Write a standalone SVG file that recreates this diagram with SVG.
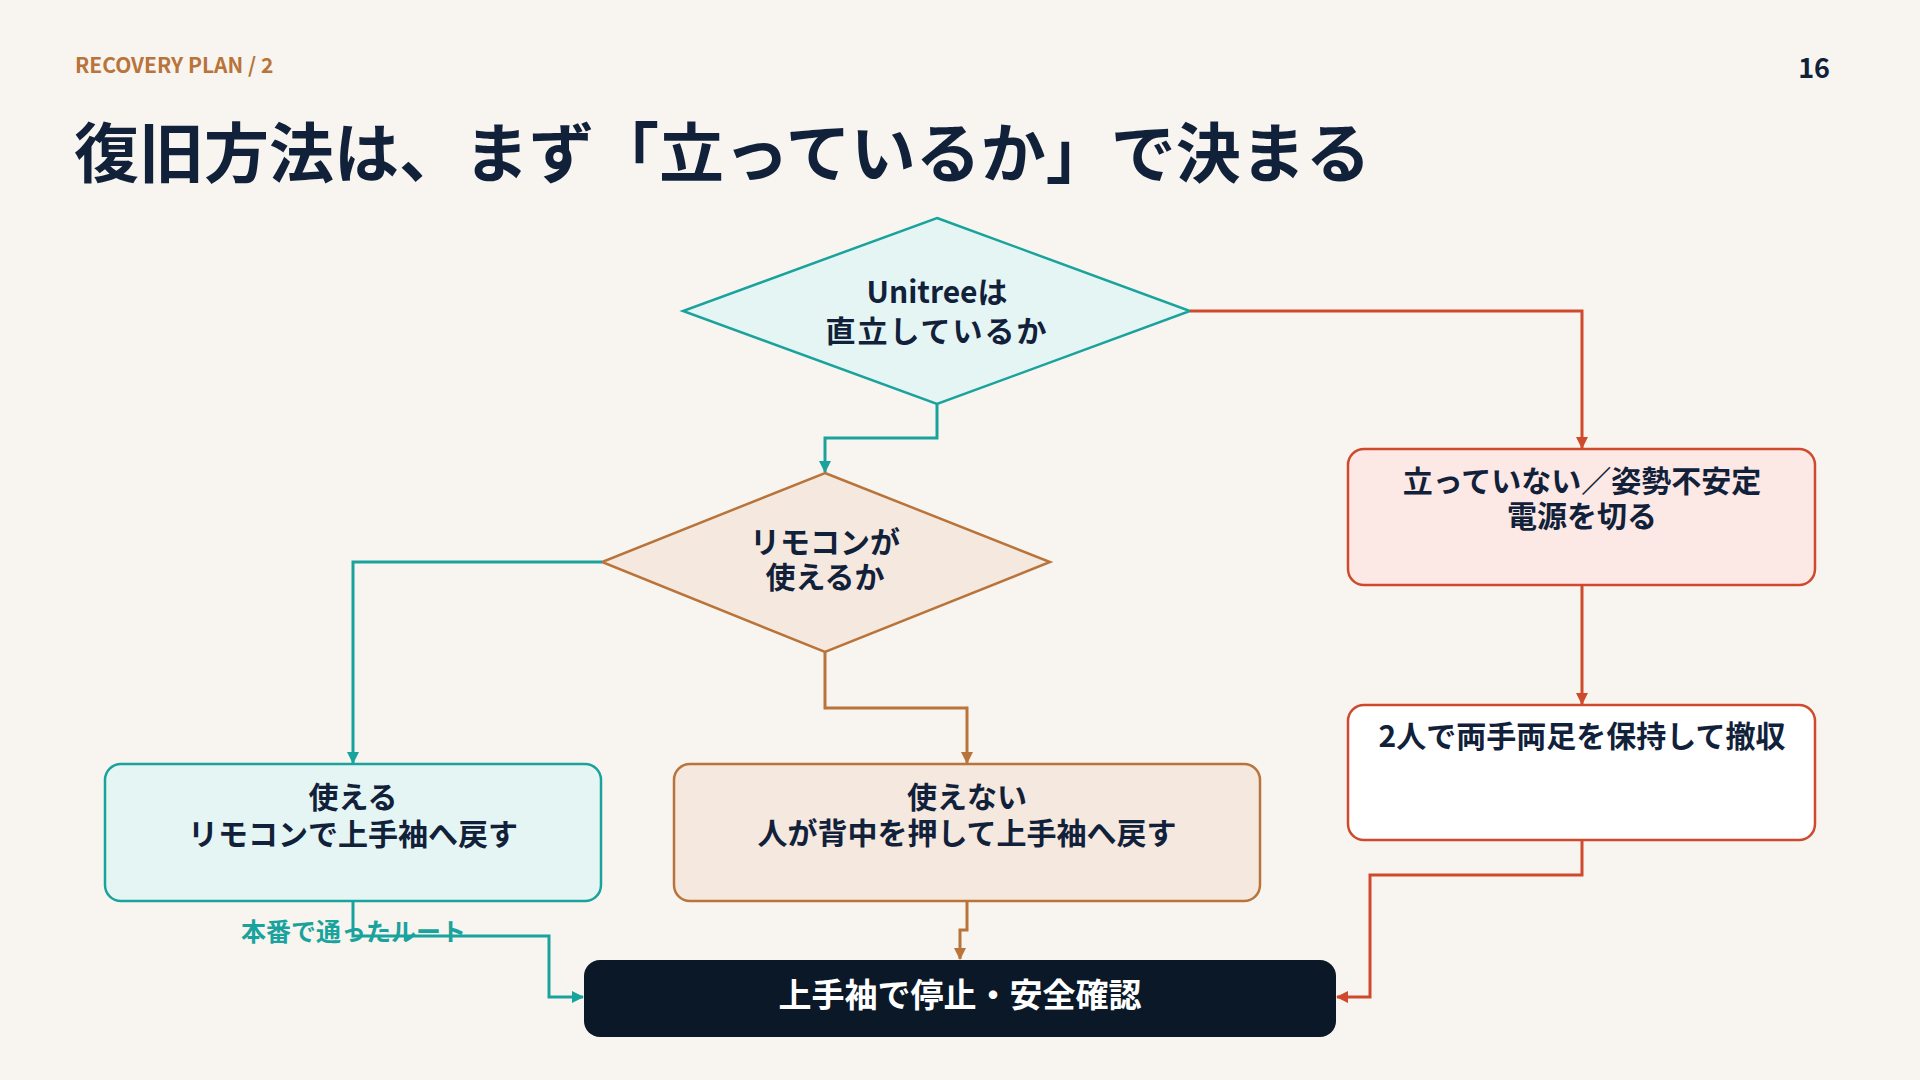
<svg xmlns="http://www.w3.org/2000/svg" width="1920" height="1080" viewBox="0 0 1920 1080">
<defs>
<style>
text{font-family:"Noto Sans CJK JP","Noto Sans",sans-serif;font-weight:700;}
.t{fill:#12213A;font-size:30px;text-anchor:middle;}
.teal{stroke:#1AA39D;}
.copper{stroke:#B8743A;}
.red{stroke:#CF4A2C;}
.conn{fill:none;stroke-width:3;}
</style>
<marker id="aTeal" viewBox="0 0 12 12" refX="11" refY="6" markerWidth="12" markerHeight="12" markerUnits="userSpaceOnUse" orient="auto"><path d="M0,0 L12,6 L0,12 Z" fill="#1AA39D"/></marker>
<marker id="aCopper" viewBox="0 0 12 12" refX="11" refY="6" markerWidth="12" markerHeight="12" markerUnits="userSpaceOnUse" orient="auto"><path d="M0,0 L12,6 L0,12 Z" fill="#B8743A"/></marker>
<marker id="aRed" viewBox="0 0 12 12" refX="11" refY="6" markerWidth="12" markerHeight="12" markerUnits="userSpaceOnUse" orient="auto"><path d="M0,0 L12,6 L0,12 Z" fill="#CF4A2C"/></marker>
</defs>
<rect width="1920" height="1080" fill="#F8F5F0"/>
<text x="75" y="73" font-size="21" fill="#B8743A">RECOVERY PLAN / 2</text>
<text x="1830" y="78" font-size="27" fill="#12213A" text-anchor="end">16</text>
<text x="74" y="177" font-size="65" fill="#12213A">復旧方法は、まず「立っているか」で決まる</text>

<g id="n1">
<polygon points="937,218 1190,311 937,404 683,311" fill="#E5F5F4" stroke="#1AA39D" stroke-width="2.5"/>
<text class="t" x="937" y="303">Unitreeは</text>
<text class="t" x="937" y="342" letter-spacing="2">直立しているか</text>
</g>
<g id="n2">
<polygon points="825,473 1050,562 825,652 602,562" fill="#F5E8DF" stroke="#B8743A" stroke-width="2.5"/>
<text class="t" x="825" y="553">リモコンが</text>
<text class="t" x="825" y="588">使えるか</text>
</g>
<g id="n3">
<rect x="1348" y="449" width="467" height="136" rx="16" fill="#FCE8E4" stroke="#CF4A2C" stroke-width="2.5"/>
<text class="t" x="1582" y="492">立っていない／姿勢不安定</text>
<text class="t" x="1582" y="527">電源を切る</text>
</g>
<g id="n4">
<rect x="1348" y="705" width="467" height="135" rx="16" fill="#FFFFFF" stroke="#CF4A2C" stroke-width="2.5"/>
<text class="t" x="1582" y="747">2人で両手両足を保持して撤収</text>
</g>
<g id="n5">
<rect x="105" y="764" width="496" height="137" rx="16" fill="#E5F5F4" stroke="#1AA39D" stroke-width="2.5"/>
<text class="t" x="353" y="808">使える</text>
<text class="t" x="353" y="845">リモコンで上手袖へ戻す</text>
</g>
<g id="n6">
<rect x="674" y="764" width="586" height="137" rx="16" fill="#F5E8DF" stroke="#B8743A" stroke-width="2.5"/>
<text class="t" x="967" y="808">使えない</text>
<text class="t" x="967" y="844">人が背中を押して上手袖へ戻す</text>
</g>
<g id="n7">
<rect x="584" y="960" width="752" height="77" rx="16" fill="#0B1828"/>
<text x="960" y="1007" font-size="33" fill="#FFFFFF" text-anchor="middle">上手袖で停止・安全確認</text>
</g>

<text x="241" y="941" font-size="25" fill="#1AA39D">本番で通ったルート</text>

<g id="connectors" class="conn">
<path class="teal conn" d="M937,404 V438 H825 V472" marker-end="url(#aTeal)"/>
<path class="red conn" d="M1190,311 H1582 V448" marker-end="url(#aRed)"/>
<path class="red conn" d="M1582,585 V704" marker-end="url(#aRed)"/>
<path class="teal conn" d="M602,562 H353 V763" marker-end="url(#aTeal)"/>
<path class="copper conn" d="M825,652 V708 H967 V763" marker-end="url(#aCopper)"/>
<path class="copper conn" d="M967,901 V930 H960 V959" marker-end="url(#aCopper)"/>
<path class="teal conn" d="M353,901 V936 H549 V997 H583" marker-end="url(#aTeal)"/>
<path class="red conn" d="M1582,840 V875 H1370 V997 H1337" marker-end="url(#aRed)"/>
</g>
</svg>
